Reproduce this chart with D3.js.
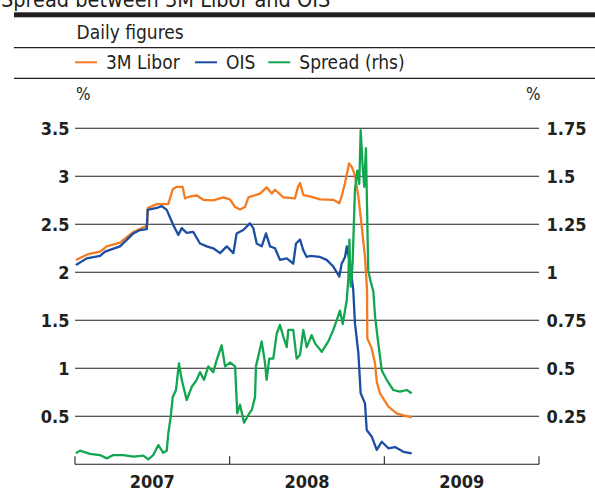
<!DOCTYPE html>
<html>
<head>
<meta charset="utf-8">
<script src="https://cdn.jsdelivr.net/npm/d3@7.9.0/dist/d3.min.js"></script>
<style>
  body { margin: 0; background: #fff; }
  svg { display: block; font-family: "DejaVu Sans Condensed", "DejaVu Sans", sans-serif; }
</style>
</head>
<body>
<svg width="595" height="491"></svg>
<script>
// [decimal year, value]
const libor = [
  [2007.006, 2.128], [2007.086, 2.19], [2007.162, 2.215], [2007.205, 2.27], [2007.291, 2.31],
  [2007.377, 2.42], [2007.457, 2.48], [2007.466, 2.49], [2007.470, 2.67], [2007.528, 2.71],
  [2007.603, 2.71], [2007.632, 2.865], [2007.658, 2.89], [2007.696, 2.89], [2007.711, 2.77],
  [2007.744, 2.79], [2007.787, 2.80], [2007.830, 2.755], [2007.894, 2.75], [2007.959, 2.78],
  [2008.002, 2.76], [2008.035, 2.68], [2008.067, 2.655], [2008.099, 2.68], [2008.121, 2.78],
  [2008.196, 2.82], [2008.239, 2.885], [2008.272, 2.82], [2008.293, 2.86], [2008.347, 2.78],
  [2008.422, 2.77], [2008.444, 2.90], [2008.455, 2.93], [2008.476, 2.805], [2008.519, 2.79],
  [2008.584, 2.76], [2008.670, 2.755], [2008.709, 2.72], [2008.724, 2.79], [2008.746, 2.93],
  [2008.772, 3.135], [2008.789, 3.10], [2008.810, 3.01], [2008.832, 2.79], [2008.854, 2.475],
  [2008.875, 2.16], [2008.888, 1.82], [2008.890, 1.31], [2008.918, 1.21], [2008.940, 1.05],
  [2008.951, 0.86], [2008.972, 0.74], [2009.026, 0.60], [2009.080, 0.53], [2009.123, 0.51],
  [2009.177, 0.49]
];

const ois = [
  [2007.006, 2.076], [2007.076, 2.145], [2007.162, 2.17], [2007.194, 2.215], [2007.291, 2.27],
  [2007.377, 2.405], [2007.420, 2.44], [2007.464, 2.45], [2007.470, 2.65], [2007.528, 2.67],
  [2007.561, 2.69], [2007.593, 2.65], [2007.636, 2.49], [2007.668, 2.39], [2007.690, 2.46],
  [2007.722, 2.41], [2007.765, 2.42], [2007.808, 2.30], [2007.852, 2.27], [2007.894, 2.25],
  [2007.938, 2.20], [2007.981, 2.27], [2008.024, 2.20], [2008.045, 2.405], [2008.088, 2.44],
  [2008.131, 2.51], [2008.153, 2.46], [2008.175, 2.30], [2008.207, 2.27], [2008.235, 2.405],
  [2008.261, 2.27], [2008.293, 2.25], [2008.325, 2.13], [2008.369, 2.145], [2008.411, 2.09],
  [2008.429, 2.30], [2008.455, 2.34], [2008.476, 2.23], [2008.498, 2.16], [2008.519, 2.17],
  [2008.584, 2.16], [2008.627, 2.13], [2008.670, 2.06], [2008.709, 1.955], [2008.724, 2.09],
  [2008.746, 2.16], [2008.757, 2.27], [2008.778, 2.09], [2008.799, 1.815], [2008.810, 1.47],
  [2008.832, 1.16], [2008.847, 0.74], [2008.875, 0.635], [2008.886, 0.357], [2008.918, 0.29],
  [2008.951, 0.15], [2008.983, 0.235], [2009.026, 0.167], [2009.069, 0.18], [2009.123, 0.13],
  [2009.177, 0.115]
];

const spread = [
  [2007.006, 0.057], [2007.032, 0.071], [2007.097, 0.054], [2007.162, 0.048], [2007.205, 0.031],
  [2007.248, 0.048], [2007.312, 0.048], [2007.377, 0.04], [2007.442, 0.045], [2007.474, 0.026],
  [2007.506, 0.048], [2007.539, 0.10], [2007.571, 0.06], [2007.593, 0.07], [2007.603, 0.16],
  [2007.619, 0.248], [2007.632, 0.35], [2007.653, 0.387], [2007.672, 0.526], [2007.690, 0.44],
  [2007.722, 0.335], [2007.755, 0.404], [2007.787, 0.44], [2007.808, 0.48], [2007.834, 0.44],
  [2007.862, 0.51], [2007.894, 0.48], [2007.916, 0.543], [2007.948, 0.62], [2007.970, 0.51],
  [2008.002, 0.53], [2008.035, 0.51], [2008.049, 0.265], [2008.067, 0.31], [2008.093, 0.217],
  [2008.121, 0.257], [2008.143, 0.283], [2008.164, 0.35], [2008.170, 0.51], [2008.207, 0.64],
  [2008.228, 0.53], [2008.239, 0.44], [2008.256, 0.55], [2008.282, 0.55], [2008.304, 0.68],
  [2008.325, 0.726], [2008.347, 0.665], [2008.369, 0.61], [2008.379, 0.70], [2008.411, 0.70],
  [2008.433, 0.55], [2008.455, 0.57], [2008.476, 0.70], [2008.498, 0.61], [2008.530, 0.673],
  [2008.552, 0.63], [2008.595, 0.586], [2008.638, 0.64], [2008.670, 0.70], [2008.692, 0.75],
  [2008.713, 0.80], [2008.731, 0.73], [2008.757, 0.856], [2008.767, 0.96], [2008.774, 1.17],
  [2008.783, 0.925], [2008.795, 1.05], [2008.810, 1.43], [2008.825, 1.53], [2008.838, 1.46],
  [2008.847, 1.74], [2008.860, 1.55], [2008.870, 1.445], [2008.881, 1.646], [2008.896, 1.01],
  [2008.912, 0.95], [2008.929, 0.90], [2008.940, 0.77], [2008.961, 0.63], [2008.983, 0.49],
  [2009.015, 0.44], [2009.058, 0.387], [2009.101, 0.378], [2009.145, 0.387], [2009.177, 0.37]
];

const leftTicks = [0.5, 1, 1.5, 2, 2.5, 3, 3.5];
const rightTicks = [0.25, 0.5, 0.75, 1, 1.25, 1.5, 1.75];
const years = [2007, 2008, 2009];
const colors = { libor: '#f47b20', ois: '#1b4ea3', spread: '#12a650' };

const svg = d3.select('svg');
const ink = '#231f20';

let x = d3.scaleLinear().domain([2007, 2010]).range([75, 539]);
let yL = d3.scaleLinear().domain([0, 3.5]).range([464.3, 128.3]);
let yR = d3.scaleLinear().domain([0, 1.75]).range([464.3, 128.3]);

// header (title is cropped at the top, as in the original)
svg.append('text').attr('x', 1).attr('y', 7).attr('font-size', 21.5).attr('fill', ink)
  .text('Spread between 3M Libor and OIS');
svg.append('rect').attr('x', 14).attr('y', 12.3).attr('width', 581).attr('height', 5).attr('fill', ink);
svg.append('text').attr('x', 76.5).attr('y', 38.5).attr('font-size', 19).attr('fill', ink).text('Daily figures');
svg.append('line').attr('x1', 14).attr('x2', 595).attr('y1', 47.7).attr('y2', 47.7).attr('stroke', ink).attr('stroke-width', 1.2);
svg.append('line').attr('x1', 14).attr('x2', 595).attr('y1', 78.3).attr('y2', 78.3).attr('stroke', ink).attr('stroke-width', 1.2);

const legendItems = [
  { label: '3M Libor', color: colors.libor, x: 75 },
  { label: 'OIS', color: colors.ois, x: 195 },
  { label: 'Spread (rhs)', color: colors.spread, x: 268.3 }
];
legendItems.forEach((d) => {
  svg.append('line').attr('x1', d.x).attr('x2', d.x + 22).attr('y1', 62.3).attr('y2', 62.3)
    .attr('stroke', d.color).attr('stroke-width', 2);
  svg.append('text').attr('x', d.x + 31).attr('y', 69).attr('font-size', 19).attr('fill', ink).text(d.label);
});

svg.append('text').attr('x', 76).attr('y', 100).attr('font-size', 17).attr('fill', ink).text('%');
svg.append('text').attr('x', 526).attr('y', 100).attr('font-size', 17).attr('fill', ink).text('%');

// gridlines
svg.append('g').selectAll('line').data(leftTicks).join('line')
  .attr('x1', x(2007)).attr('x2', x(2010))
  .attr('y1', (d) => yL(d)).attr('y2', (d) => yL(d))
  .attr('stroke', ink).attr('stroke-width', 1.1);

svg.append('g').selectAll('text').data(leftTicks).join('text')
  .attr('x', 69.5).attr('y', (d) => yL(d)).attr('dy', '0.36em')
  .attr('text-anchor', 'end').attr('font-size', 18).attr('font-weight', 'bold').attr('fill', ink)
  .text((d) => d);

svg.append('g').selectAll('text').data(rightTicks).join('text')
  .attr('x', 546.5).attr('y', (d) => yR(d)).attr('dy', '0.36em')
  .attr('font-size', 18).attr('font-weight', 'bold').attr('fill', ink)
  .text((d) => d);

// x axis
svg.append('line').attr('x1', x(2007)).attr('x2', x(2010)).attr('y1', yL(0)).attr('y2', yL(0))
  .attr('stroke', ink).attr('stroke-width', 1.1);
svg.append('g').selectAll('line').data([2007, 2008, 2009, 2010]).join('line')
  .attr('x1', (d) => x(d)).attr('x2', (d) => x(d))
  .attr('y1', yL(0) - 8).attr('y2', yL(0))
  .attr('stroke', ink).attr('stroke-width', 1.1);
svg.append('g').selectAll('text').data(years).join('text')
  .attr('x', (d) => x(d + 0.5)).attr('y', 488)
  .attr('text-anchor', 'middle').attr('font-size', 18).attr('font-weight', 'bold').attr('fill', ink)
  .text((d) => d);

// series
const lineL = d3.line().x((d) => x(d[0])).y((d) => yL(d[1]));
const lineR = d3.line().x((d) => x(d[0])).y((d) => yR(d[1]));

svg.append('path').attr('d', lineL(libor)).attr('fill', 'none').attr('stroke', colors.libor).attr('stroke-width', 2.3).attr('stroke-linejoin', 'round');
svg.append('path').attr('d', lineL(ois)).attr('fill', 'none').attr('stroke', colors.ois).attr('stroke-width', 2.3).attr('stroke-linejoin', 'round');
svg.append('path').attr('d', lineR(spread)).attr('fill', 'none').attr('stroke', colors.spread).attr('stroke-width', 2.3).attr('stroke-linejoin', 'round');
</script>
</body>
</html>
